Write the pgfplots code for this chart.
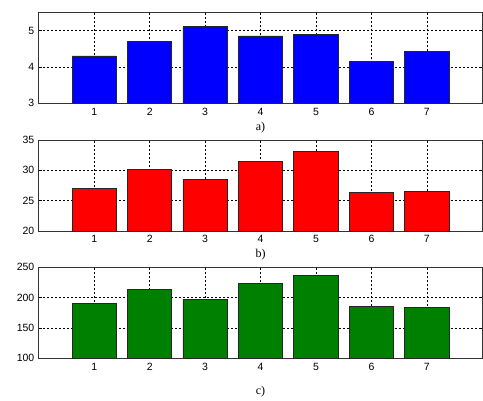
\documentclass[border=0pt]{standalone}
\usepackage{fontspec}
\setmainfont{Liberation Serif}
\newfontfamily\arial{Liberation Sans}
\usepackage{pgfplots}
\pgfplotsset{compat=1.18}
\definecolor{mgreen}{RGB}{0,128,0}
\pgfplotsset{
  mystyle/.style={
    scale only axis, width=443.5bp, height=91bp,
    anchor=north west,
    xmin=0, xmax=8, xtick={1,...,7},
    ybar, bar width=0.8, bar shift=0pt,
    grid=major,
    major grid style={black, line width=0.5bp, dash pattern=on 2bp off 2bp},
    axis line style={black!80, line width=0.8bp},
    tick style={black, line width=0.5bp},
    major tick length=3bp,
    tick align=inside,
    ticklabel style={font=\arial\fontsize{10.5bp}{12bp}\selectfont},
    /pgf/number format/assume math mode=true,
    xticklabel style={yshift=-1bp},
    yticklabel style={xshift=-1bp},
    xlabel style={font=\fontsize{12bp}{14bp}\selectfont, at={(axis description cs:0.5,0)}, anchor=center},
  }
}
\begin{document}
\begin{tikzpicture}
\path[use as bounding box] (0bp,0bp) rectangle (483bp,-401bp);
\begin{axis}[mystyle, at={(38.8bp,-12.3bp)}, ymin=3, ymax=5.5, ytick={3,4,5},
  xlabel={a)}, xlabel style={yshift=-24bp}]
\addplot[fill=blue, draw=black!85, line width=0.8bp] coordinates {(1,4.30) (2,4.70) (3,5.10) (4,4.85) (5,4.90) (6,4.14) (7,4.42)};
\end{axis}
\begin{axis}[mystyle, at={(38.8bp,-140bp)}, ymin=20, ymax=35, ytick={20,25,30,35},
  xlabel={b)}, xlabel style={yshift=-23.5bp}]
\addplot[fill=red, draw=black!85, line width=0.8bp] coordinates {(1,27.0) (2,30.2) (3,28.5) (4,31.4) (5,33.1) (6,26.4) (7,26.5)};
\end{axis}
\begin{axis}[mystyle, at={(38.8bp,-267.3bp)}, ymin=100, ymax=250, ytick={100,150,200,250},
  xlabel={c)}, xlabel style={yshift=-33.7bp}]
\addplot[fill=mgreen, draw=black!85, line width=0.8bp] coordinates {(1,190.5) (2,213) (3,196.5) (4,223.5) (5,236) (6,185.5) (7,184)};
\end{axis}
\end{tikzpicture}
\end{document}
